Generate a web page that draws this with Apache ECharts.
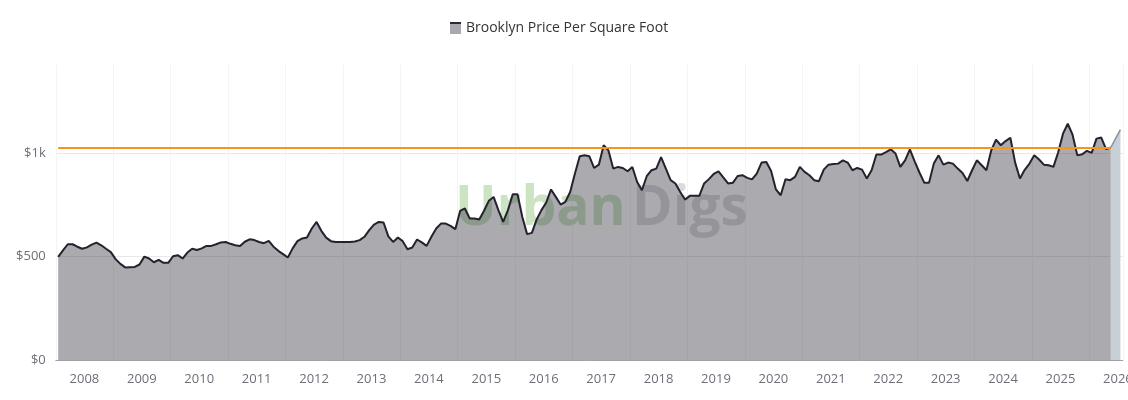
<!DOCTYPE html>
<html>
<head>
<meta charset="utf-8">
<title>Brooklyn Price Per Square Foot</title>
<script src="https://cdn.jsdelivr.net/npm/echarts@6/dist/echarts.min.js"></script>
<style>
  html, body { margin: 0; padding: 0; background: #fff; }
  #chart { width: 1128px; height: 400px; }
</style>
</head>
<body>
<div id="chart"></div>
<script>
// monthly series starts Jan 2008
const startYear = 2008;
const seriesName = 'Brooklyn Price Per Square Foot';

// closed months, $ per sq ft
const pricePerSqFt = [
  499, 530, 560, 560, 548, 538, 545, 558, 568, 555, 538, 522,
  488, 465, 448, 449, 450, 462, 500, 491, 473, 484, 470, 470,
  502, 507, 491, 520, 538, 532, 540, 552, 552, 560, 569, 571,
  562, 555, 551, 572, 584, 580, 571, 565, 576, 548, 528, 512,
  496, 540, 575, 588, 593, 636, 668, 625, 592, 575, 571, 571,
  571, 571, 573, 580, 596, 628, 655, 668, 665, 598, 571, 593,
  575, 536, 544, 583, 569, 552, 596, 636, 660, 660, 649, 633,
  721, 733, 685, 685, 680, 722, 770, 789, 725, 668, 725, 802,
  802, 692, 609, 615, 680, 725, 762, 825, 789, 752, 765, 813,
  902, 986, 990, 986, 929, 945, 1039, 1014, 926, 934, 929, 913,
  934, 861, 821, 889, 918, 926, 982, 926, 870, 854, 813, 776,
  794, 794, 794, 854, 875, 900, 913, 883, 854, 857, 890, 894,
  881, 874, 902, 955, 958, 914, 825, 797, 874, 870, 886, 934,
  910, 894, 870, 865, 921, 945, 948, 950, 966, 955, 918, 929,
  921, 878, 918, 994, 994, 1006, 1019, 999, 934, 966, 1019, 961,
  907, 858, 857, 950, 990, 945, 955, 950, 926, 905, 866, 918,
  966, 942, 918, 1014, 1066, 1039, 1059, 1075, 955, 878, 920, 950,
  990, 970, 945, 942, 934, 1005, 1095, 1143, 1090, 990, 995, 1012,
  1002, 1071, 1076, 1020, 1028
];

// current, still open months
const openMonths = [1072, 1114];

const yTicks = [0, 500, 1000];

const totalMonths = pricePerSqFt.length + openMonths.length;
const months = [];
for (let i = 0; i < totalMonths; i++) {
  const y = startYear + Math.floor(i / 12);
  const m = (i % 12) + 1;
  months.push(y + '-' + (m < 10 ? '0' + m : m));
}

const lastIdx = pricePerSqFt.length - 1;
const lastValue = pricePerSqFt[lastIdx];

const mainData = pricePerSqFt.concat(openMonths.map(() => '-'));
const openData = months.map((_, i) => {
  if (i === lastIdx) return lastValue;
  if (i > lastIdx) return openMonths[i - lastIdx - 1];
  return '-';
});

const font = '"Open Sans", "Noto Sans", sans-serif';

const chart = echarts.init(document.getElementById('chart'));
chart.setOption({
  animation: false,
  textStyle: { fontFamily: font },
  legend: {
    data: [seriesName],
    left: 445,
    top: 16,
    itemWidth: 11,
    itemHeight: 12,
    icon: 'rect',
    itemStyle: {
      color: {
        type: 'linear', x: 0, y: 0, x2: 0, y2: 1,
        colorStops: [
          { offset: 0, color: '#2a2a36' },
          { offset: 0.18, color: '#2a2a36' },
          { offset: 0.18, color: '#a9a8ae' },
          { offset: 1, color: '#a9a8ae' },
        ],
      },
      borderWidth: 0,
    },
    textStyle: { fontSize: 14, color: '#333', fontFamily: font },
  },
  grid: {
    left: 55.8,
    right: 5.2,
    top: 64.4,
    bottom: 40,
    outerBoundsMode: 'none',
    containLabel: false,
  },
  // watermark, sits under the translucent area
  graphic: [
    {
      type: 'text',
      left: 455,
      top: 182,
      z: 1,
      style: {
        text: 'Urban',
        font: 'bold 55px ' + font,
        fill: '#cde4c3',
      },
    },
    {
      type: 'text',
      left: 632,
      top: 182,
      z: 1,
      style: {
        text: 'Digs',
        font: 'bold 55px ' + font,
        fill: '#dadadd',
      },
    },
  ],
  xAxis: {
    type: 'category',
    data: months,
    boundaryGap: true,
    axisTick: { show: false },
    axisLine: { lineStyle: { color: '#a0a0a8', width: 1 } },
    axisLabel: {
      color: '#6e6e78',
      fontSize: 13,
      margin: 13,
      padding: [0, 5, 0, 0],
      interval: (index, value) => value.slice(5) === '07',
      formatter: (value) => value.slice(0, 4),
    },
    splitLine: {
      show: true,
      interval: (index, value) => index % 12 === 0,
      lineStyle: { color: '#f4f4f4', width: 1 },
    },
  },
  yAxis: {
    type: 'value',
    min: yTicks[0],
    max: 1430,
    interval: yTicks[1] - yTicks[0],
    axisLine: { show: false },
    axisTick: { show: false },
    axisLabel: {
      color: '#6e6e78',
      fontSize: 13,
      margin: 10,
      showMaxLabel: false,
      formatter: (v) => (v >= 1000 ? '$' + v / 1000 + 'k' : '$' + v),
    },
    splitLine: {
      showMaxLine: false,
      lineStyle: { color: '#e8e8e8', width: 1 },
    },
  },
  series: [
    {
      name: seriesName,
      type: 'line',
      data: mainData,
      symbol: 'none',
      z: 3,
      lineStyle: { color: '#23222d', width: 2 },
      itemStyle: { color: '#a9a8ae' },
      areaStyle: { color: '#2a2a36', opacity: 0.4 },
      markLine: {
        silent: true,
        symbol: 'none',
        label: { show: false },
        lineStyle: { color: '#f7941d', width: 2, type: 'solid' },
        data: [[
          { coord: [months[0], lastValue] },
          { coord: [months[lastIdx], lastValue] },
        ]],
      },
    },
    {
      name: 'open',
      type: 'line',
      data: openData,
      symbol: 'none',
      z: 4,
      lineStyle: { color: '#8593a3', width: 1.5 },
      areaStyle: { color: '#c9cfd6', opacity: 1 },
    },
  ],
});
</script>
</body>
</html>
